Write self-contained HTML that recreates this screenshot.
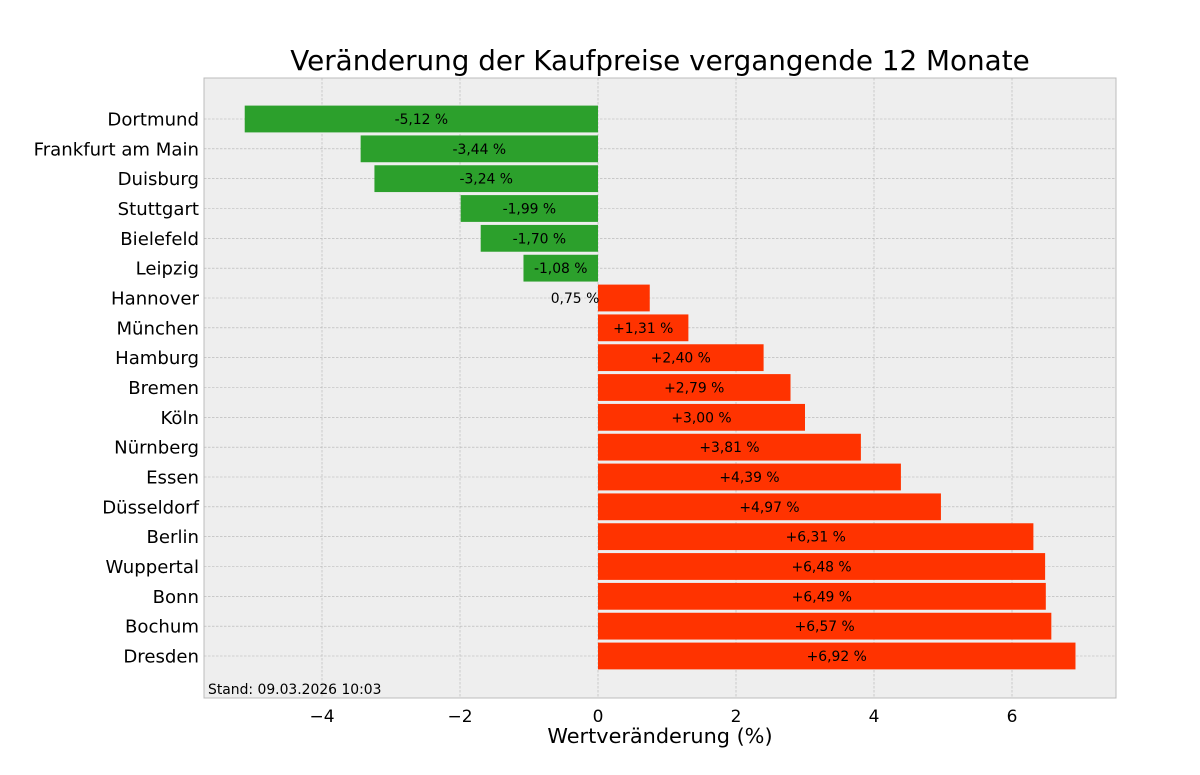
<!DOCTYPE html>
<html><head><meta charset="utf-8"><style>body{margin:0;background:#fff}svg{display:block;font-family:"DejaVu Sans","Liberation Sans",sans-serif}</style></head>
<body>
<svg width="1200" height="775" xmlns="http://www.w3.org/2000/svg">
<rect width="1200" height="775" fill="#fff"/>
<rect x="204" y="78" width="912" height="620" fill="#eeeeee" stroke="#bcbcbc" stroke-width="1"/>
<g id="grid" stroke="#b2b2b2" stroke-width="0.6" stroke-dasharray="2.5,1.5"></g>
<g id="bars"></g>
<text x="660" y="70" font-size="27.8" text-anchor="middle" fill="#000">Veränderung der Kaufpreise vergangende 12 Monate</text>
<text x="660" y="743" font-size="20.8" text-anchor="middle" fill="#000">Wertveränderung (%)</text>
<text x="208" y="694" font-size="13.9" fill="#000">Stand: 09.03.2026 10:03</text>
<script>
const names=["Dortmund","Frankfurt am Main","Duisburg","Stuttgart","Bielefeld","Leipzig","Hannover","München","Hamburg","Bremen","Köln","Nürnberg","Essen","Düsseldorf","Berlin","Wuppertal","Bonn","Bochum","Dresden"];
const vals=[-5.12,-3.44,-3.24,-1.99,-1.70,-1.08,0.75,1.31,2.40,2.79,3.00,3.81,4.39,4.97,6.31,6.48,6.49,6.57,6.92];
const ns="http://www.w3.org/2000/svg";
const svg=document.querySelector("svg"),g=document.getElementById("grid"),b=document.getElementById("bars");
function el(t,a,p,txt){const e=document.createElementNS(ns,t);for(const k in a)e.setAttribute(k,a[k]);if(txt)e.textContent=txt;p.appendChild(e);return e;}
const X=v=>598+v*69;
for(const t of [-4,-2,0,2,4,6]){el("line",{x1:X(t),x2:X(t),y1:78,y2:698},g);
 el("text",{x:X(t),y:722,"font-size":17,"text-anchor":"middle"},svg,(t<0?"\u2212"+(-t):""+t));}
names.forEach((n,i)=>{const cy=119+i*29.833;
 el("line",{x1:204,x2:1116,y1:cy,y2:cy},g);
 el("text",{x:199,y:cy+6.5,"font-size":18.1,"text-anchor":"end"},svg,n);
 const v=vals[i],x0=Math.min(X(0),X(v)),w=Math.abs(X(v)-X(0));
 el("rect",{x:x0,y:cy-13.4,width:w,height:26.8,fill:v<0?"#2ca02c":"#ff3300"},b);
 let s=Math.abs(v).toFixed(2).replace(".",",")+" %";
 let lab=v<0?"-"+s:(i==6?s:"+"+s);
 let lx=i==6?575:X(v/2);
 el("text",{x:lx,y:cy+5,"font-size":13.9,"text-anchor":"middle"},b,lab);
});
</script>
</svg>
</body></html>
